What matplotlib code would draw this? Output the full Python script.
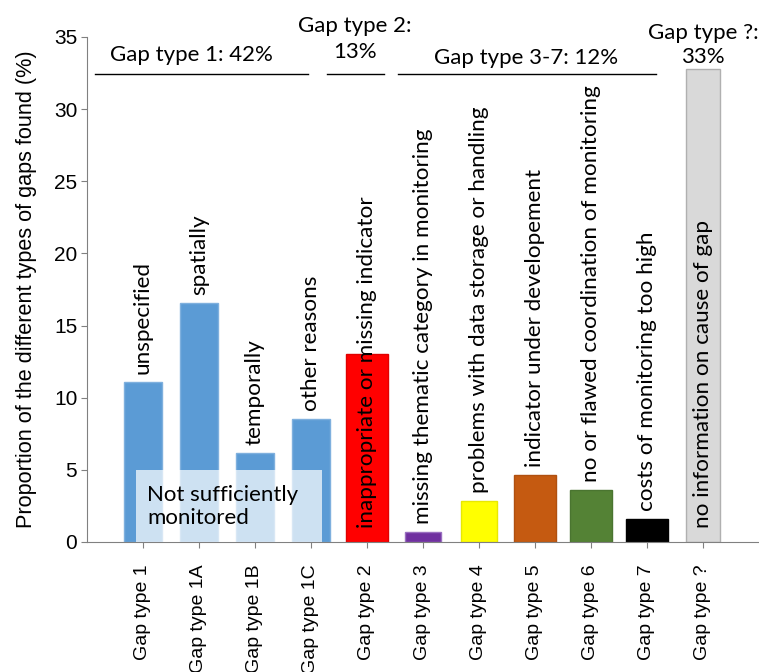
import numpy as np
import matplotlib.pyplot as plt
from matplotlib.patches import Rectangle

# bar data
categories = ["Gap type 1", "Gap type 1A", "Gap type 1B", "Gap type 1C", "Gap type 2",
              "Gap type 3", "Gap type 4", "Gap type 5", "Gap type 6", "Gap type 7", "Gap type ?"]
values = [11.1, 16.55, 6.2, 8.55, 13.0, 0.67, 2.84, 4.66, 3.6, 1.62, 32.8]
bar_notes = ["unspecified", "spatially", "temporally", "other reasons",
             "inappropriate or missing indicator",
             "missing thematic category in monitoring",
             "problems with data storage or handling",
             "indicator under developement",
             "no or flawed coordination of monitoring",
             "costs of monitoring too high",
             "no information on cause of gap"]
group_titles = ["Gap type 1: 42%", "Gap type 2:\n13%", "Gap type 3-7: 12%", "Gap type ?:\n33%"]

colors = ["#5b9bd5"] * 4 + ["#ff0000", "#7030a0", "#ffff00", "#c55a11", "#548235", "#000000", "#d9d9d9"]
edges = ["#7fb0de"] * 4 + ["#e00000", "#9a70c0", "#e8e800", "#b05010", "#4a7530", "#000000", "#b0b0b0"]
widths = [0.68, 0.68, 0.68, 0.68, 0.75, 0.66, 0.66, 0.75, 0.75, 0.75, 0.61]
inside = [False, False, False, False, True, False, False, False, False, False, True]

annot_font = "Lato"
tick_font = "Liberation Sans"

fig = plt.figure(figsize=(7.59, 6.72), dpi=100)
ax = fig.add_axes([0.1146, 0.1935, 0.8854, 0.7515])

x = np.arange(len(categories))
ax.bar(x, values, width=widths, color=colors, edgecolor=edges, linewidth=1)

# light overlay marking the "not sufficiently monitored" part of gap type 1
ax.add_patch(Rectangle((x[0] - 0.125, 0), x[3] - x[0] + 0.315, 5,
                       facecolor="white", edgecolor="none", alpha=0.7, zorder=3))
ax.text(x[0] + 0.07, 2.45, "Not sufficiently\nmonitored", fontsize=16, family=annot_font,
        ha="left", va="center", linespacing=1.2, zorder=4)

# rotated descriptions above / inside the bars
for xi, v, note, ins in zip(x, values, bar_notes, inside):
    y = 1.0 if ins else v + 0.55
    ax.text(xi, y, note, rotation=90, ha="center", va="bottom",
            fontsize=16.2, family=annot_font, zorder=5)

# group brackets at the top
spans = [(x[0] - 0.86, x[3] - 0.06), (x[4] - 0.72, x[4] + 0.31), (x[5] - 0.45, x[9] + 0.16)]
for (a, b) in spans:
    ax.plot([a, b], [32.4, 32.4], color="black", lw=1, clip_on=False)
ax.text(0.86, 33.75, group_titles[0], ha="center", va="center", fontsize=16, family=annot_font)
ax.text(3.78, 34.85, group_titles[1], ha="center", va="center", fontsize=16, family=annot_font,
        linespacing=1.35, clip_on=False)
ax.text(6.84, 33.55, group_titles[2], ha="center", va="center", fontsize=16, family=annot_font)
ax.text(10.0, 34.45, group_titles[3], ha="center", va="center", fontsize=16, family=annot_font,
        linespacing=1.25, clip_on=False)

ax.set_xlim(-1, 11)
ax.set_ylim(0, 35)
ax.set_yticks(np.arange(0, 36, 5))
ax.set_xticks(x)
ax.set_xticklabels(categories, rotation=90, fontsize=14, family=tick_font)
for lab in ax.get_yticklabels():
    lab.set_family(tick_font)
    lab.set_fontsize(15)
ax.tick_params(axis="x", length=4, pad=12, color="#808080")
ax.tick_params(axis="y", length=4, pad=3, color="#808080")
ax.set_ylabel("Proportion of the different types of gaps found (%)", fontsize=15.6,
              family=tick_font, labelpad=12)

for side in ["top", "right"]:
    ax.spines[side].set_visible(False)
ax.spines["left"].set_color("#808080")
ax.spines["bottom"].set_color("#808080")

plt.savefig("out.png", dpi=100)
